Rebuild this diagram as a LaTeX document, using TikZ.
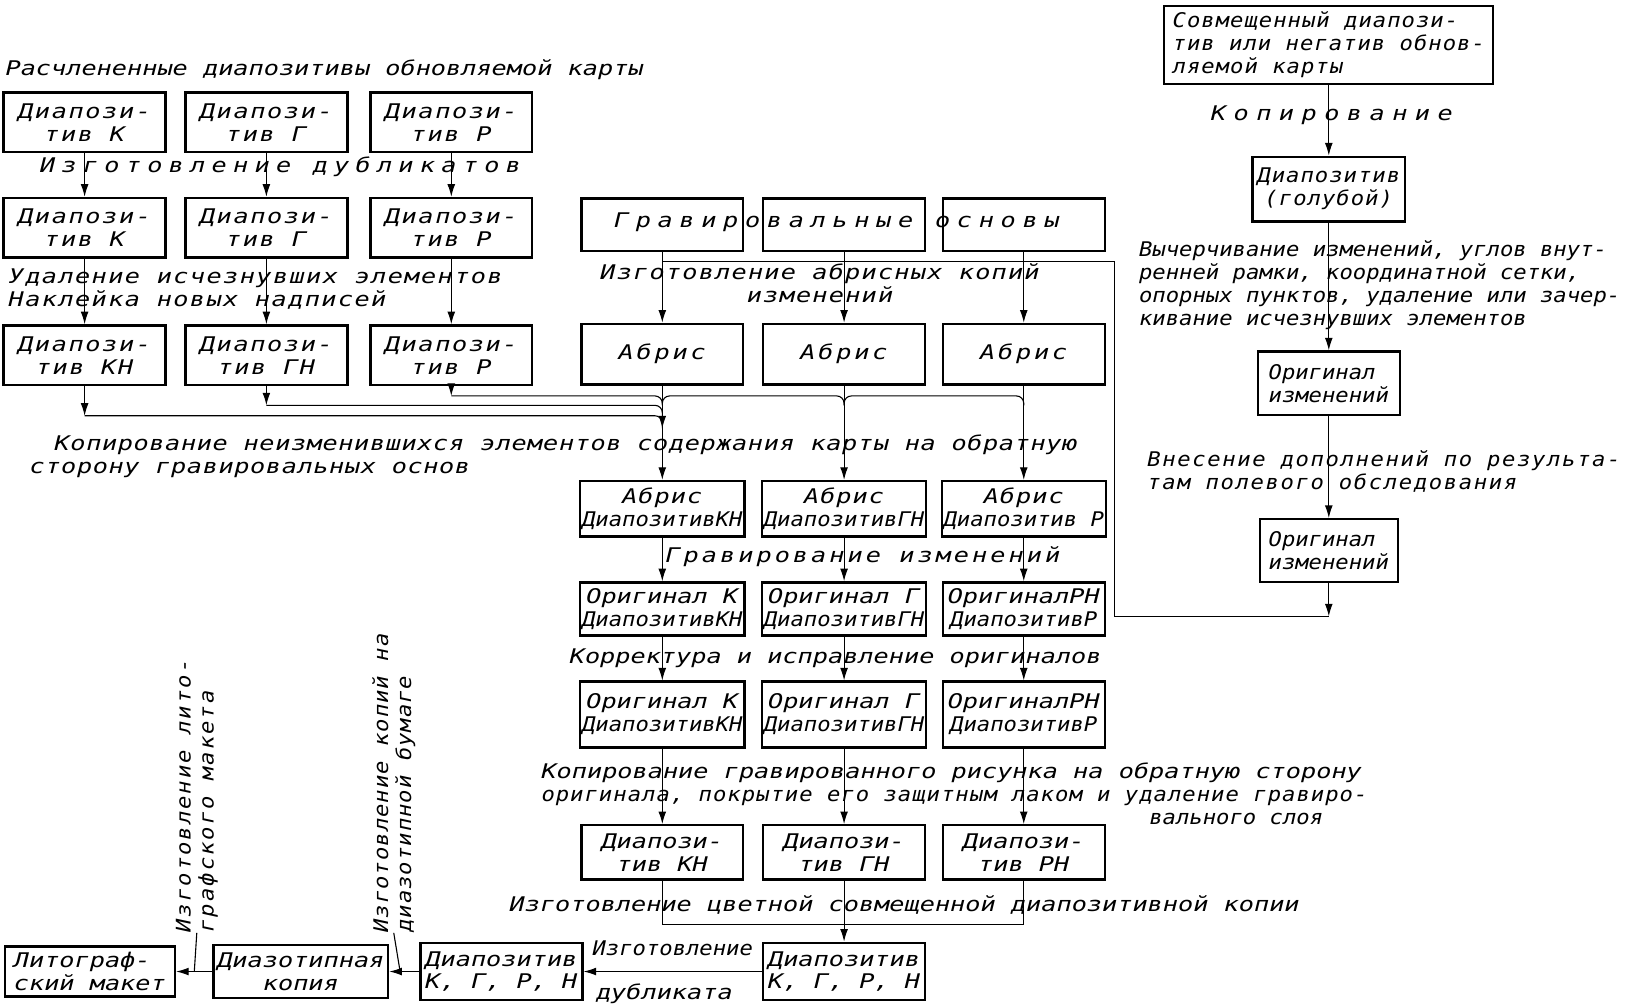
\documentclass[tikz,border=0pt]{standalone}
\usepackage{fontspec}
\usepackage{tikz}
\usetikzlibrary{arrows.meta, positioning, calc}
\newfontfamily\drw[FakeStretch=1.25]{DejaVu Sans Mono Oblique}
\newfontfamily\drwn[FakeStretch=1.1]{DejaVu Sans Mono Oblique}
\newcommand\drwfont{\drw\fontsize{11pt}{12.5pt}\selectfont}
\newcommand\nar{\drwn\fontsize{11pt}{12.5pt}\selectfont}
\newcommand\spc[1]{\addfontfeature{LetterSpace=#1}}
\tikzset{
  box/.style ={rectangle, draw, line width=1.3pt, inner sep=1pt, align=center, font=\drwfont},
  lbox/.style={box, minimum width=3.1cm, minimum height=1.14cm, font=\drwfont\spc{8}},
  mbox/.style={box, minimum width=3.1cm},
  lbl/.style ={inner sep=0pt, align=left, font=\drwfont},
  ln/.style  ={line width=0.6pt},
  fl/.style  ={ln, -{Latex[length=2.4mm, width=1.5mm]}},
}

\begin{document}
\begin{tikzpicture}[x=0.02cm, y=-0.02cm]
  \useasboundingbox (0,0) rectangle (1568,964);
  % left column
  \node[lbl, anchor=west] (ttl) at (5,67) {Расчлененные диапозитивы обновляемой карты};
  \node[lbox] (k1) at (81,117) {Диапози-\\тив К};
  \node[lbox] (g1) at (255,117) {Диапози-\\тив Г};
  \node[lbox] (r1) at (432,117) {Диапози-\\тив Р};
  \node[lbl, anchor=west, font=\drwfont\spc{31}] (dubl) at (38,160) {Изготовление дубликатов};
  \node[lbox] (k2) at (81,218) {Диапози-\\тив К};
  \node[lbox] (g2) at (255,218) {Диапози-\\тив Г};
  \node[lbox] (r2) at (432,218) {Диапози-\\тив Р};
  \node[lbl, anchor=west, font=\drwfont\spc{7}] (udal) at (8,277) {Удаление исчезнувших элементов\\Наклейка новых надписей};
  \node[lbox] (k3) at (81,340) {Диапози-\\тив КН};
  \node[lbox] (g3) at (255,340) {Диапози-\\тив ГН};
  \node[lbox] (r3) at (432,340) {Диапози-\\тив Р};
  % middle column
  \node[mbox, minimum height=1cm] (osn1) at (634,215) {};
  \node[mbox, minimum height=1cm] (osn2) at (808,215) {};
  \node[mbox, minimum height=1cm] (osn3) at (980,215) {};
  \node[lbl, font=\drwfont\spc{33}] (osn) at (801,213) {Гравировальные основы};
  \node[lbl, align=center, font=\drwfont\spc{6}] (abrl) at (785,271) {Изготовление абрисных копий\\изменений};
  \node[mbox, minimum height=1.16cm, font=\drwfont\spc{14}] (a1) at (634,339) {Абрис};
  \node[mbox, minimum height=1.16cm, font=\drwfont\spc{14}] (a2) at (808,339) {Абрис};
  \node[mbox, minimum height=1.16cm, font=\drwfont\spc{14}] (a3) at (980,339) {Абрис};
  \node[lbl, anchor=west, font=\drwfont\spc{3}] (kopl) at (28,437) {\hspace*{0.48cm}Копирование неизменившихся элементов содержания карты на обратную\\сторону гравировальных основ};
  \node[mbox, minimum height=1.06cm] (b1) at (634,487) {{\spc{5}Абрис}\\{\nar ДиапозитивКН}};
  \node[mbox, minimum height=1.06cm] (b2) at (808,487) {{\spc{5}Абрис}\\{\nar ДиапозитивГН}};
  \node[mbox, minimum height=1.06cm] (b3) at (980,487) {{\spc{5}Абрис}\\{\nar Диапозитив Р}};
  \node[lbl, font=\drwfont\spc{15}] (grav) at (826,533) {Гравирование изменений};
  \node[mbox, minimum height=1.02cm] (c1) at (634,583) {Оригинал К\\{\nar ДиапозитивКН}};
  \node[mbox, minimum height=1.02cm] (c2) at (808,583) {Оригинал Г\\{\nar ДиапозитивГН}};
  \node[mbox, minimum height=1.02cm] (c3) at (980,583) {ОригиналРН\\{\nar ДиапозитивР}};
  \node[lbl] (korr) at (800,630) {Корректура и исправление оригиналов};
  \node[mbox, minimum height=1.26cm] (d1) at (634,684) {Оригинал К\\{\nar ДиапозитивКН}};
  \node[mbox, minimum height=1.26cm] (d2) at (808,684) {Оригинал Г\\{\nar ДиапозитивГН}};
  \node[mbox, minimum height=1.26cm] (d3) at (980,684) {ОригиналРН\\{\nar ДиапозитивР}};
  \node[lbl, anchor=west] (kgr) at (518,760) {Копирование гравированного рисунка на обратную сторону\\{\nar\spc{5}оригинала, покрытие его защитным лаком и удаление гравиро-}\\\hspace*{11.64cm}{\nar вального слоя}};
  \node[mbox, minimum height=1.04cm] (e1) at (634,816) {Диапози-\\тив КН};
  \node[mbox, minimum height=1.04cm] (e2) at (808,816) {Диапози-\\тив ГН};
  \node[mbox, minimum height=1.04cm] (e3) at (980,816) {Диапози-\\тив РН};
  \node[lbl] (cvet) at (866,866) {Изготовление цветной совмещенной диапозитивной копии};
  \node[mbox, minimum height=1.1cm] (f) at (808,930) {Диапозитив\\К, Г, Р, Н};
  % bottom row
  \node[mbox, minimum height=1.1cm] (g) at (480,930) {Диапозитив\\К, Г, Р, Н};
  \node[box, minimum width=3.34cm, minimum height=1.02cm] (h) at (288,930) {Диазотипная\\копия};
  \node[box, align=left, minimum width=3.26cm, minimum height=0.96cm] (i) at (86,930) {Литограф-\\ский макет};
  \node[lbl, font=\nar] (dub1) at (644,908) {Изготовление};
  \node[lbl] (dub2) at (636,951) {дубликата};
  \node[lbl, rotate=90, anchor=north west, font=\nar\spc{5}] (rotd) at (356,893) {Изготовление копий на\\диазотипной бумаге};
  \node[lbl, rotate=90, anchor=north west, font=\nar\spc{10}] (rotl) at (168,893) {Изготовление лито-\\графского макета};
  % right column
  \node[box, align=left, minimum width=6.3cm, minimum height=1.5cm, font=\nar\spc{5}] (sov) at (1272,43) {Совмещенный диапози-\\тив или негатив обнов-\\ляемой карты};
  \node[lbl, font=\drwfont\spc{37}] (kopr) at (1275,110) {Копирование};
  \node[box, minimum width=2.92cm, minimum height=1.24cm, font=\nar\spc{5}] (gol) at (1272,181) {Диапозитив\\(голубой)};
  \node[lbl, anchor=west, font=\nar] (vych) at (1090,273) {Вычерчивание изменений, углов внут-\\ренней рамки, координатной сетки,\\опорных пунктов, удаление или зачер-\\кивание исчезнувших элементов};
  \node[box, align=left, minimum width=2.72cm, minimum height=1.22cm, font=\nar] (or1) at (1272,367) {Оригинал\\изменений};
  \node[lbl, anchor=west, font=\nar\spc{8}] (vnes) at (1098,451) {Внесение дополнений по результа-\\там полевого обследования};
  \node[box, align=left, minimum width=2.64cm, minimum height=1.2cm, font=\nar] (or2) at (1272,527) {Оригинал\\изменений};
  % helper points
  \coordinate (jt) at (1067,250);
  \coordinate (jb) at (1067,590);
  \coordinate (lv1) at (0,379);
  \coordinate (lv2) at (0,388);
  \coordinate (lv3) at (0,398);
  \coordinate (lv4) at (0,410);
  \coordinate (br) at (0,885);
  \coordinate (ld1) at (383,930);
  \coordinate (ld2) at (186,930);
  % left flow
  \draw[fl] (k1) -- (k2);
  \draw[fl] (g1) -- (g2);
  \draw[fl] (r1) -- (r2);
  \draw[fl] (k2) -- (k3);
  \draw[fl] (g2) -- (g3);
  \draw[fl] (r2) -- (r3);
  \draw[fl] (r3) -- (r3 |- lv1);
  \draw[fl] (g3) -- (g3 |- lv2);
  \draw[fl] (k3) -- (k3 |- lv3);
  \draw[ln, rounded corners=4pt] (r3 |- lv1) -- (a1 |- lv1) -- (a1 |- lv2);
  \draw[ln, rounded corners=4pt] (g3 |- lv2) -- (a1 |- lv2) -- (a1 |- lv3);
  \draw[ln, rounded corners=4pt] (k3 |- lv3) -- (a1 |- lv3) -- (a1 |- lv4);
  \draw[ln, rounded corners=4pt] (a1 |- lv2) -- (a1 |- lv1) -- (a2 |- lv1) -- (a2 |- lv2);
  \draw[ln, rounded corners=4pt] (a2 |- lv2) -- (a2 |- lv1) -- (a3 |- lv1) -- (a3 |- lv2);
  % middle flow
  \draw[ln] (osn1) -- (osn1 |- jt);
  \draw[ln] (osn2) -- (osn2 |- jt);
  \draw[ln] (osn3) -- (osn3 |- jt);
  \draw[ln] (or2 |- jb) -- (jb) -- (jt) -- (osn1 |- jt);
  \draw[fl] (osn1 |- jt) -- (a1);
  \draw[fl] (osn2 |- jt) -- (a2);
  \draw[fl] (osn3 |- jt) -- (a3);
  \draw[fl] (a1) -- (a1 |- lv4);
  \draw[fl] (a1 |- lv4) -- (b1);
  \draw[fl] (a2) -- (b2);
  \draw[fl] (a3) -- (b3);
  \draw[fl] (b1) -- (c1);
  \draw[fl] (b2) -- (c2);
  \draw[fl] (b3) -- (c3);
  \draw[fl] (c1) -- (d1);
  \draw[fl] (c2) -- (d2);
  \draw[fl] (c3) -- (d3);
  \draw[fl] (d1) -- (e1);
  \draw[fl] (d2) -- (e2);
  \draw[fl] (d3) -- (e3);
  \draw[ln] (e1) -- (e1 |- br) -- (e3 |- br) -- (e3);
  \draw[fl] (e2) -- (f);
  \draw[fl] (f) -- (g);
  \draw[fl] (g) -- (h);
  \draw[fl] (h) -- (i);
  \draw[ln] (rotd.west) -- (ld1);
  \draw[ln] (rotl.west) -- (ld2);
  % right flow
  \draw[fl] (sov) -- (gol);
  \draw[fl] (gol) -- (or1);
  \draw[fl] (or1) -- (or2);
  \draw[fl] (or2) -- (or2 |- jb);
\end{tikzpicture}
\end{document}
